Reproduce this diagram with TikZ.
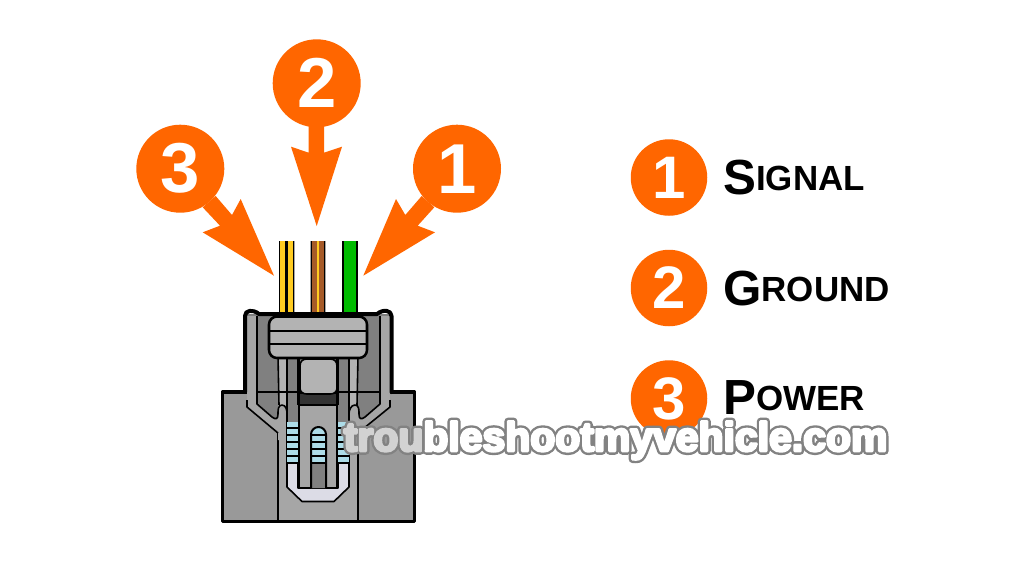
\documentclass[tikz,border=0pt]{standalone}
\usepackage{fontspec}
\setmainfont{Liberation Sans}[BoldFont={Liberation Sans Bold}]
\usetikzlibrary{calc}
\definecolor{org}{HTML}{FF6600}
\definecolor{gA}{HTML}{999999}
\definecolor{gB}{HTML}{A6A6A6}
\definecolor{gC}{HTML}{808080}
\definecolor{gD}{HTML}{B3B3B3}
\definecolor{gE}{HTML}{333333}
\definecolor{blu}{HTML}{ADDCE8}
\definecolor{lil}{HTML}{DCDCE6}
\definecolor{yel}{HTML}{FFCC22}
\definecolor{brn}{HTML}{A55A28}
\definecolor{grn}{HTML}{00BB00}
\definecolor{halo}{HTML}{828282}
\definecolor{wmon}{HTML}{D2D2D2}
\newcommand{\fsz}[1]{\fontsize{#1}{#1}\selectfont}
\newcommand{\lbl}[2]{{\fsz{37pt}\bfseries #1}\raisebox{2.7pt}{\fsz{26.2pt}\bfseries #2}}
\newcommand{\wmlayer}[2]{\special{pdf:code q 2 Tr #1 w 1 j}#2\special{pdf:code 0 Tr Q}}
\tikzset{
  badge/.style={circle,fill=org,text=white,inner sep=0pt,font=\fsz{53pt}\bfseries,minimum size=88*0.75pt},
  legend/.style={circle,fill=org,text=white,inner sep=0pt,font=\fsz{45pt}\bfseries,minimum size=76.5*0.75pt},
  arrowshape/.style={fill=org,draw=none},
  legendtext/.style={anchor=base west,inner sep=0pt,text=black},
  thick line/.style={draw=black,line width=2.6pt,line join=round},
  thin line/.style={draw=black,line width=1.2pt,line join=round},
  mark text/.style={anchor=base west,inner sep=0pt,text=white,font=\fsz{30.7pt}\bfseries},
}
\begin{document}
\begin{tikzpicture}[x=0.75pt,y=-0.75pt]
\useasboundingbox (0,0) rectangle (1024,576);
\fill[white] (0,0) rectangle (1024,576);

% wires
\fill[gC!70] (278.5,241) rectangle (294.5,315);
\fill[yel] (280,241) rectangle (293,315);
\fill[black] (285,241) rectangle (288.2,315);
\fill[black] (292.6,241) rectangle (294.2,315);
\fill[black] (278.8,241) rectangle (280,315);
\fill[gC!70] (310,241) rectangle (326,315);
\fill[brn] (311.5,241) rectangle (325,315);
\fill[yel] (316.7,241) rectangle (319.3,315);
\fill[black] (310.6,241) rectangle (312,315);
\fill[black] (324.4,241) rectangle (325.4,315);
\fill[grn] (343,241) rectangle (357,315);
\fill[black] (342,241) rectangle (343.6,315);
\fill[black] (356,241) rectangle (357.6,315);

% lower block
\path[fill=gA,thick line] (222.5,392) -- (414.5,392) -- (414.5,521.5) -- (222.5,521.5) -- cycle;
\fill[gB] (278,425) rectangle (358,520);
\draw[thin line] (278,432) -- (278,520) (358,432) -- (358,520);

% upper housing interior
\path[fill=gC] (247,314) -- (390,314) -- (390,405) -- (358,433) -- (278,433) -- (247,405) -- cycle;

% legs, bars behind
\fill[gD] (278,358) rectangle (287,420);
\fill[gD] (349,358) rectangle (358,420);
\draw[thin line] (278,356) -- (279,405);
\draw[thin line] (287,356) -- (287,421);
\draw[thin line] (358,356) -- (357,405);
\draw[thin line] (349,356) -- (349,421);
\draw[thin line] (257,392) -- (380,392);

% walls
\fill[gB] (247,316) -- (257,316) -- (257,404) -- (272,417)
  .. controls (276,420) and (278,419) .. (278,414)
  .. controls (278,410) and (278,405) .. (282,405)
  .. controls (286,405) and (287,410) .. (287,414) -- (287,440) -- (278,440) -- (278,433) -- (247,407) -- cycle;
\fill[gB] (390,316) -- (380,316) -- (380,404) -- (365,417)
  .. controls (361,420) and (359,419) .. (359,414)
  .. controls (359,410) and (359,405) .. (355,405)
  .. controls (351,405) and (349,410) .. (349,414) -- (349,440) -- (358,440) -- (358,433) -- (390,407) -- cycle;
\draw[thin line] (257,316) -- (257,404) -- (272,417)
  .. controls (276,420) and (278,419) .. (278,414)
  .. controls (278,410) and (278,405) .. (282,405)
  .. controls (286,405) and (287,410) .. (287,414) -- (287,470);
\draw[thin line] (247,400) -- (247,407) -- (278,433);
\draw[thin line] (380,316) -- (380,404) -- (365,417)
  .. controls (361,420) and (359,419) .. (359,414)
  .. controls (359,410) and (359,405) .. (355,405)
  .. controls (351,405) and (349,410) .. (349,414) -- (349,470);
\draw[thin line] (390,400) -- (390,407) -- (358,433);

% outer housing outline
\path[draw=black,line width=3pt,line join=round,line cap=round] (245,392) -- (245,316)
  .. controls (245,310) and (253,309) .. (259,314) -- (377,314)
  .. controls (383,309) and (391.5,310) .. (391.5,316) -- (391.5,392);

% terminal U
\path[fill=lil,thin line] (287,463) -- (287,487) -- (302,501.5) -- (334,501.5) -- (349,487) -- (349,463) -- (338,463) -- (338,488) -- (298,488) -- (298,463) -- cycle;
% side contacts
\foreach \xa/\xb in {287/298,338/349}{
  \fill[blu] (\xa,422) rectangle (\xb,463);
  \foreach \yy in {428,435,442,449,456,463}
    \draw[thin line] (\xa,\yy) -- (\xb,\yy);
}
% centre column
\path[fill=gB,thin line] (299,405) -- (337,405) -- (337,488) -- (299,488) -- cycle;
\path[fill=gE,thin line] (299,393) -- (337,393) -- (337,405) -- (299,405) -- cycle;
\draw[thick line,line width=1.6pt] (298.5,358) -- (298.5,405) (337.5,358) -- (337.5,405);
% window
\path[fill=gC] (311,488) -- (311,434.5) arc[start angle=180,end angle=360,radius=7.5] -- (326,488) -- cycle;
\begin{scope}
\clip (311,488) -- (311,434.5) arc[start angle=180,end angle=360,radius=7.5] -- (326,488) -- cycle;
\fill[blu] (311,425) rectangle (326,463);
\foreach \yy in {435,442,449,456,463}
  \draw[thin line] (311,\yy) -- (326,\yy);
\end{scope}
\path[thin line,line width=1.5pt] (311,488) -- (311,434.5) arc[start angle=180,end angle=360,radius=7.5] -- (326,488);

% centre plug
\path[fill=gD,thin line] (300,366) .. controls (300,361) and (303,359) .. (307,359) -- (330,359)
  .. controls (334,359) and (337,361) .. (337,366) -- (337,388)
  .. controls (337,392) and (334,394) .. (330,394) -- (307,394)
  .. controls (303,394) and (300,392) .. (300,388) -- cycle;
% cap
\path[fill=gD,draw=black,line width=1.9pt,rounded corners=6pt] (269,316.5) rectangle (367,358);
\draw[draw=black,line width=1.3pt] (269,331) -- (367,331) (269,344) -- (367,344);

% arrows
\fill[arrowshape] (308.7,120) -- (308.7,152.7) -- (291,146.7) -- (316.7,226) -- (342,146.7) -- (324,152.7) -- (324,120) -- cycle;
\fill[arrowshape] (202.7,207.3) -- (220,225.7) -- (202.7,232.3) -- (274,275.7) -- (240.7,199) -- (232,215) -- (215.7,196) -- cycle;
\fill[arrowshape] (434.3,207.3) -- (417.7,225.7) -- (435,232.3) -- (363.3,275.7) -- (396,199) -- (405.3,215) -- (421.7,196) -- cycle;

% badges
\node[badge] (b2) at (316.7,83.3) {2};
\node[badge] (b3) at (180.3,168.7) {3};
\node[badge] (b1) at (457,168.7) {1};

% legend
\node[legend] (l1) at (669,177.5) {1};
\node[legend] (l2) at (669,288) {2};
\node[legend] (l3) at (669,398.5) {3};
\node[legendtext] (t1) at (723,194.5) {\lbl{S}{IGNAL}};
\node[legendtext] (t2) at (723,305) {\lbl{G}{ROUND}};
\node[legendtext] (t3) at (723,414.5) {\lbl{P}{OWER}};

% watermark
\node[mark text] (wm) at (343.5,451) {\rlap{\color{halo}\wmlayer{5.6}{troubleshootmyvehicle.com}}\wmlayer{2.0}{\textcolor{wmon}{trou}\textcolor{white}{bleshootmyvehicle.com}}};
\end{tikzpicture}
\end{document}
